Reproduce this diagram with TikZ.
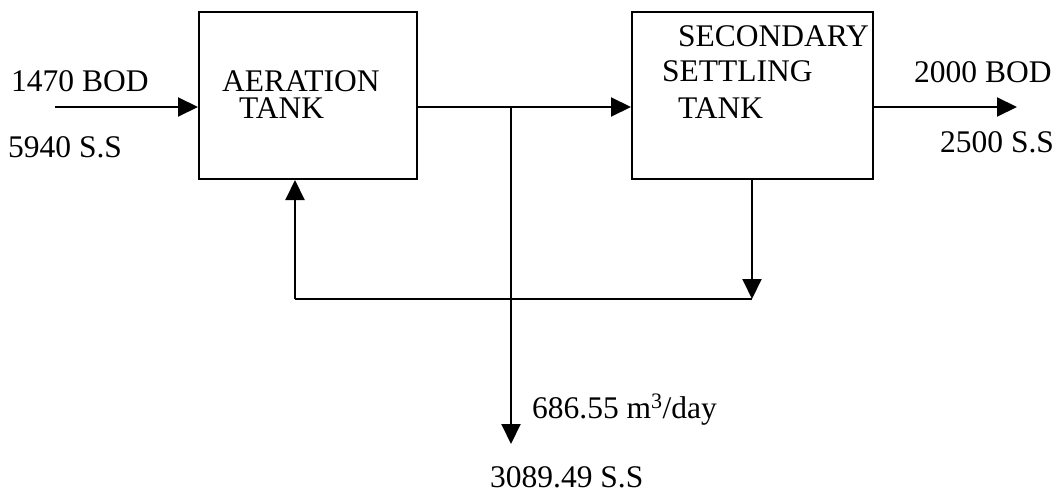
\documentclass[tikz,border=0pt]{standalone}
\usepackage{fontspec}
\setmainfont{Liberation Serif}
\usetikzlibrary{positioning,arrows.meta}

\begin{document}
\begin{tikzpicture}[x=1pt, y=-1pt,
      every node/.style={font=\fontsize{31.5}{36}\selectfont, inner sep=0pt},
      tank/.style={draw, line width=2pt, minimum height=167pt},
      lbl/.style={anchor=base west},
      flow/.style={line width=2pt},
      arrow/.style={flow, -{Triangle[length=20pt, width=19pt]}},
  ]
    \useasboundingbox (0,0) rectangle (1059,492);
    \node[tank, minimum width=218pt] (aer) at (308,95.5) {};
    \node[tank, minimum width=241pt] (sst) at (752.5,95.5) {};

    \node[lbl] (aer1) at (222,92) {AERATION};
    \node[lbl] (aer2) at (239,119) {TANK};
    \node[lbl] (sst1) at (678,47) {SECONDARY};
    \node[lbl] (sst2) at (662,82) {SETTLING};
    \node[lbl] (sst3) at (678,118) {TANK};

    \node[lbl] (inbod) at (11,92) {1470 BOD};
    \node[lbl] (inss) at (8,157) {5940 S.S};
    \node[lbl] (outbod) at (914,83) {2000 BOD};
    \node[lbl] (outss) at (940,152) {2500 S.S};
    \node[lbl] (wflow) at (532,418) {686.55 m\textsuperscript{3}/day};
    \node[lbl] (wss) at (490,487) {3089.49 S.S};

    \coordinate (inlet) at (55,107);
    \coordinate (split) at (511,107);
    \coordinate (waste) at (511,444);
    \coordinate (outlet) at (1017,107);
    \coordinate (ret) at (752,299);
    \coordinate (retend) at (295,299);

    \draw[arrow] (inlet) -- (inlet -| aer.west);
    \draw[flow] (aer.east |- split) -- (split);
    \draw[arrow] (split) -- (split -| sst.west);
    \draw[arrow] (split) -- (waste);
    \draw[arrow] (sst.east |- outlet) -- (outlet);
    \draw[arrow] (ret |- sst.south) -- (ret);
    \draw[flow] (ret) -- (retend);
    \draw[arrow] (retend) -- (retend |- aer.south);
\end{tikzpicture}
\end{document}
